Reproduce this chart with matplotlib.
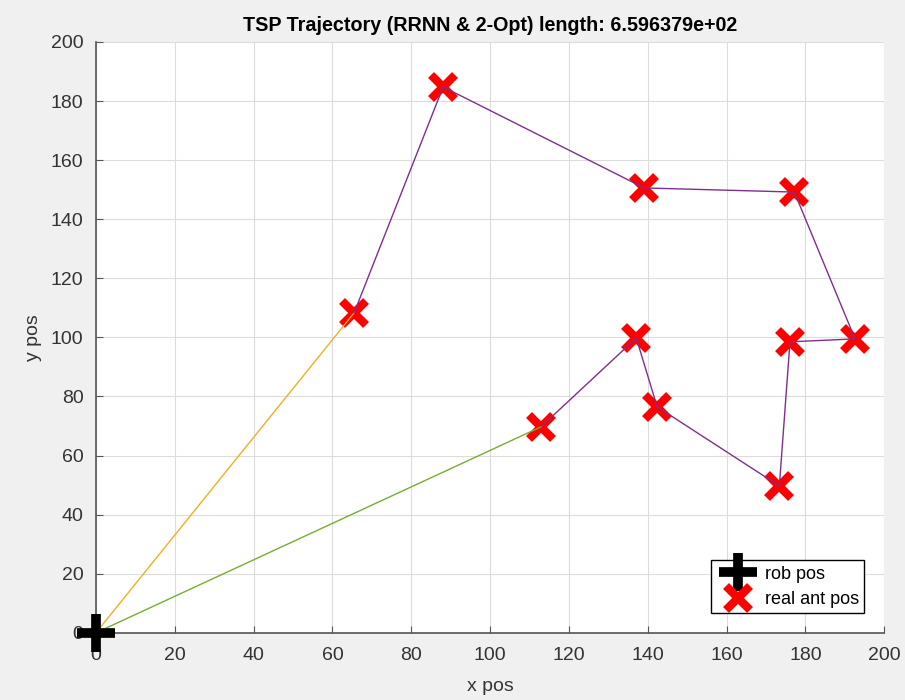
import matplotlib.pyplot as plt

plt.rcParams['font.family'] = ['Liberation Sans', 'DejaVu Sans']

# robot start position
rob_x = [0]
rob_y = [0]

# antenna positions in tour order (2-opt result)
ant_x = [65.5, 88.1, 139.1, 177.2, 192.6, 176.1, 173.4, 142.4, 137.1, 112.9]
ant_y = [108.3, 184.8, 150.6, 149.2, 99.5, 98.5, 49.7, 76.5, 99.8, 69.7]

title = "TSP Trajectory (RRNN & 2-Opt) length: 6.596379e+02"
xticks = list(range(0, 201, 20))
yticks = list(range(0, 201, 20))

ORANGE = "#EDB120"
GREEN = "#77AC30"
PURPLE = "#7E2F8E"
TXT = "#333333"


def main():
    fig = plt.figure(figsize=(9.05, 7.0), dpi=100, facecolor="#F0F0F0")
    ax = fig.add_axes([0.106, 0.096, 0.871, 0.844])
    ax.set_facecolor("white")

    ax.plot(ant_x, ant_y, "x", color="red", markersize=17, markeredgewidth=6,
            label="real ant pos", zorder=3)

    # legs of the tour
    ax.plot([rob_x[0], ant_x[0]], [rob_y[0], ant_y[0]], color=ORANGE, lw=1, zorder=4)
    ax.plot(ant_x, ant_y, color=PURPLE, lw=1, zorder=4)
    ax.plot([ant_x[-1], rob_x[0]], [ant_y[-1], rob_y[0]], color=GREEN, lw=1, zorder=4)

    ax.plot(rob_x, rob_y, "+", color="black", markersize=28, markeredgewidth=7,
            label="rob pos", zorder=5, clip_on=False)

    ax.set_xlim(0, 200)
    ax.set_ylim(0, 200)
    ax.set_xticks(xticks)
    ax.set_yticks(yticks)
    ax.grid(True, color="#DCDCDC", lw=0.8)
    ax.set_axisbelow(True)
    ax.tick_params(direction="in", length=5, colors="#555555", labelsize=14,
                   labelcolor=TXT)
    ax.tick_params(axis="x", pad=10)
    ax.tick_params(axis="y", pad=9)
    for s in ["top", "right"]:
        ax.spines[s].set_visible(False)
    for s in ["left", "bottom"]:
        ax.spines[s].set_color("#555555")
        ax.spines[s].set_linewidth(1.2)
    # tick labels sit under the robot marker, as in the original
    for lab in ax.get_xticklabels() + ax.get_yticklabels():
        lab.set_zorder(1)

    ax.set_xlabel("x pos", fontsize=14, color=TXT, labelpad=10)
    ax.set_ylabel("y pos", fontsize=14, color=TXT, labelpad=6)
    ax.set_title(title, fontsize=14.2, fontweight="bold", pad=8)

    handles, labels = ax.get_legend_handles_labels()
    order = [labels.index("rob pos"), labels.index("real ant pos")]
    leg = ax.legend([handles[i] for i in order], [labels[i] for i in order],
                    loc="lower right", bbox_to_anchor=(0.975, 0.033),
                    fancybox=False, edgecolor="black", framealpha=1,
                    fontsize=13, handlelength=2.4, handletextpad=0.3,
                    borderpad=0.3, labelspacing=0.45, markerscale=1.0,
                    borderaxespad=0)
    leg.get_frame().set_linewidth(1.0)

    fig.savefig("out.png", dpi=100, facecolor=fig.get_facecolor())


if __name__ == "__main__":
    main()
